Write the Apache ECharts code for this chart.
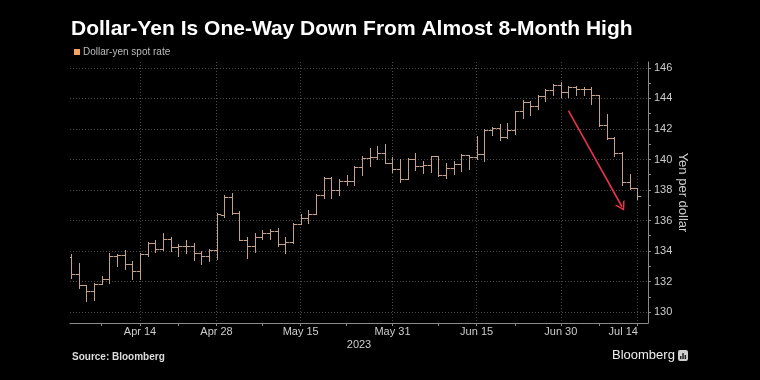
<!DOCTYPE html>
<html>
<head>
<meta charset="utf-8">
<script src="https://cdn.jsdelivr.net/npm/echarts@6/dist/echarts.min.js"></script>
<style>
html,body{margin:0;padding:0;background:#000;}
#chart{width:760px;height:380px;}
</style>
</head>
<body>
<div id="chart"></div>
<script>
var dates = ['04-03','04-04','04-05','04-06','04-07','04-10','04-11','04-12','04-13','04-14','04-17','04-18','04-19','04-20','04-21','04-24','04-25','04-26','04-27','04-28',
'05-01','05-02','05-03','05-04','05-05','05-08','05-09','05-10','05-11','05-12','05-15','05-16','05-17','05-18','05-19','05-22','05-23','05-24','05-25','05-26','05-29','05-30','05-31',
'06-01','06-02','06-05','06-06','06-07','06-08','06-09','06-12','06-13','06-14','06-15','06-16','06-19','06-20','06-21','06-22','06-23','06-26','06-27','06-28','06-29','06-30',
'07-03','07-04','07-05','07-06','07-07','07-10','07-11','07-12','07-13','07-14'];

var open = [133.6,132.5,131.75,131.4,131.85,132.15,133.65,133.72,133.15,132.7,
133.8,134.55,134.1,134.8,134.25,134.3,134.35,133.85,133.7,134.05,
136.35,137.55,136.5,134.75,134.35,134.9,135.2,135.3,134.45,134.6,
135.75,136.15,136.45,137.7,138.8,138.0,138.6,138.6,139.5,140.1,
140.15,140.45,139.8,139.35,138.7,140.0,139.6,139.65,140.2,138.95,
139.45,139.7,140.3,140.15,140.35,141.9,142.05,141.45,141.95,143.15,
143.8,143.5,144.15,144.55,144.85,144.4,144.75,144.6,144.65,144.2,
142.25,141.4,140.45,138.55,138.1];
var high = [133.8,133.2,131.8,131.9,132.35,133.85,133.8,134.05,133.35,133.9,
134.6,134.7,135.15,134.9,134.45,134.75,134.5,134.0,134.1,136.5,
137.65,137.8,136.6,134.9,135.15,135.35,135.45,135.5,134.9,135.85,
136.45,136.7,137.75,138.85,138.85,138.7,138.95,139.6,140.25,140.75,
140.9,141.0,140.15,140.05,140.1,140.45,139.9,140.25,140.2,139.8,
139.9,140.35,140.3,141.55,142.0,142.15,142.3,142.4,143.2,143.9,
143.85,144.2,144.6,144.95,145.1,144.8,144.8,144.75,144.75,144.2,
143.0,141.45,140.5,139.05,138.1];
var low = [132.2,131.55,130.7,130.8,131.85,131.9,133.0,132.8,132.15,132.15,
133.65,133.95,134.05,134.0,133.65,133.9,133.4,133.15,133.35,133.45,
136.2,136.45,134.7,133.55,133.95,134.8,134.8,134.35,133.85,134.55,
135.75,135.85,136.4,137.5,137.5,137.65,138.3,138.3,138.95,139.55,
140.0,139.75,139.2,138.5,138.7,139.3,139.1,139.15,138.9,138.8,
139.05,139.25,139.4,140.0,139.9,141.6,141.25,141.4,141.65,142.75,
142.9,143.3,143.85,144.2,144.1,144.1,144.2,144.2,143.65,142.2,
141.35,140.25,138.3,138.05,137.4];
var close = [132.5,131.75,131.4,131.85,132.15,133.65,133.72,133.15,132.7,133.8,
134.55,134.1,134.8,134.25,134.3,134.35,133.85,133.7,134.05,136.4,
137.55,136.5,134.75,134.35,134.9,135.2,135.3,134.45,134.6,135.75,
136.15,136.45,137.7,138.8,138.0,138.6,138.6,139.5,140.1,140.15,
140.45,139.8,139.35,138.7,140.0,139.6,139.65,140.2,138.95,139.45,
139.7,140.3,140.15,140.35,141.9,142.05,141.45,141.95,143.15,143.8,
143.5,144.15,144.55,144.85,144.4,144.75,144.6,144.65,144.2,142.25,
141.4,140.45,138.55,138.1,137.6];

var tickDates = ['04-14','04-28','05-15','05-31','06-15','06-30','07-14'];
var tickLabels = ['Apr 14','Apr 28','May 15','May 31','Jun 15','Jun 30','Jul 14'];
var minorTickDates = ['04-07','04-21','05-08','05-23','06-08','06-22','07-07'];
var yTicks = [130,132,134,136,138,140,142,144,146];
var yMinorTicks = [131,133,135,137,139,141,143,145];
var arrowStart = ['07-03', 143.2];
var arrowEnd = ['07-12', 136.9];

var barColor = '#c4a189';
var rows = dates.map(function(d, i){ return [i, open[i], high[i], low[i], close[i]]; });
var tickIdx = tickDates.map(function(d){ return dates.indexOf(d); });
var minorIdx = minorTickDates.map(function(d){ return dates.indexOf(d); });
var labelMap = {};
tickIdx.forEach(function(v, k){ labelMap[v] = tickLabels[k]; });

var chart = echarts.init(document.getElementById('chart'));
var FONT = '"Liberation Sans", Arial, sans-serif';
var xMin = -0.15, xMax = 75.4, yMin = 129.28, yMax = 146.39;

chart.setOption({
  backgroundColor: '#000',
  animation: false,
  textStyle: {fontFamily: FONT},
  title: {
    text: 'Dollar-Yen Is One-Way Down From Almost 8-Month High',
    left: 71, top: 19, padding: 0,
    textStyle: {color: '#fff', fontSize: 21, fontWeight: 'bold', fontFamily: FONT}
  },
  legend: {
    left: 74, top: 47, padding: 0,
    icon: 'rect', itemWidth: 6, itemHeight: 6, itemGap: 4,
    data: [{name: 'Dollar-yen spot rate', itemStyle: {color: '#f4a460'}}],
    textStyle: {color: '#bbb', fontSize: 10, padding: [0,0,0,-2]}
  },
  grid: {left: 70, right: 112, top: 62, bottom: 57, containLabel: false},
  xAxis: [{
    type: 'value', min: xMin, max: xMax, position: 'bottom',
    name: '2023', nameLocation: 'middle', nameGap: 16, nameMoveOverlap: false,
    nameTextStyle: {color: '#ccc', fontSize: 11},
    axisLine: {show: true, onZero: false, lineStyle: {color: '#8a8a8a', width: 1}},
    axisTick: {show: true, customValues: tickIdx, length: 3, lineStyle: {color: '#8a8a8a'}},
    axisLabel: {
      customValues: tickIdx, color: '#ccc', fontSize: 11, margin: 3,
      formatter: function(v){
        var idx = Math.round(v);
        var s = labelMap[idx] || '';
        if (idx === dates.length - 1) return '{r|' + s + '}';
        return s;
      },
      rich: {r: {color: '#ccc', fontSize: 11, padding: [0, 28, 0, 0]}}
    },
    splitLine: {show: true, lineStyle: {color: '#4a4a4a', type: [1, 2], width: 1}}
  }, {
    type: 'value', min: xMin, max: xMax, position: 'bottom',
    axisLine: {show: false, onZero: false},
    axisTick: {show: true, customValues: minorIdx, length: 3, lineStyle: {color: '#8a8a8a'}},
    axisLabel: {show: false},
    splitLine: {show: false}
  }],
  yAxis: [{
    type: 'value', min: yMin, max: yMax, position: 'right',
    name: 'Yen per dollar', nameLocation: 'middle', nameGap: 28, nameRotate: -90, nameMoveOverlap: false,
    nameTextStyle: {color: '#ccc', fontSize: 13},
    axisLine: {show: true, onZero: false, lineStyle: {color: '#8a8a8a', width: 1}},
    axisTick: {show: true, customValues: yTicks, length: 3, lineStyle: {color: '#8a8a8a'}},
    axisLabel: {customValues: yTicks, color: '#ccc', fontSize: 11, margin: 6},
    splitLine: {show: true, lineStyle: {color: '#4a4a4a', type: [1, 2], width: 1}}
  }, {
    type: 'value', min: yMin, max: yMax, position: 'right',
    axisLine: {show: false, onZero: false},
    axisTick: {show: true, customValues: yMinorTicks, length: 3, lineStyle: {color: '#8a8a8a'}},
    axisLabel: {show: false},
    splitLine: {show: false}
  }],
  series: [{
    name: 'Dollar-yen spot rate',
    type: 'custom',
    xAxisIndex: 0, yAxisIndex: 0,
    clip: true,
    data: rows,
    encode: {x: 0, y: [1, 2, 3, 4]},
    itemStyle: {color: barColor},
    renderItem: function(params, api){
      var i = api.value(0);
      var x = api.coord([i, api.value(1)])[0];
      var yo = Math.round(api.coord([i, api.value(1)])[1]) + 0.5;
      var yh = api.coord([i, api.value(2)])[1];
      var yl = api.coord([i, api.value(3)])[1];
      var yc = Math.round(api.coord([i, api.value(4)])[1]) + 0.5;
      var half = api.size([1, 0])[0] * 0.5;
      var xs = Math.round(x) + 0.5;
      var st = {stroke: barColor, lineWidth: 1};
      var gx = params.coordSys.x;
      return {type: 'group', children: [
        {type: 'line', shape: {x1: xs, y1: Math.round(yh), x2: xs, y2: Math.round(yl) + 1}, style: st},
        {type: 'line', shape: {x1: Math.max(gx, xs - half), y1: yo, x2: xs, y2: yo}, style: st},
        {type: 'line', shape: {x1: xs, y1: yc, x2: xs + half, y2: yc}, style: st}
      ]};
    },
    markLine: {
      silent: true,
      animation: false,
      label: {show: false},
      lineStyle: {color: '#e8334d', width: 1.6, type: 'solid'},
      data: [[
        {coord: [dates.indexOf(arrowStart[0]), arrowStart[1]], symbol: 'none'},
        {coord: [dates.indexOf(arrowEnd[0]), arrowEnd[1]], symbol: 'path://M0,10 L5,0 L10,10 L8.4,10 L5,3.2 L1.6,10 Z', symbolSize: [11, 9]}
      ]]
    }
  }],
  graphic: [
    {type: 'text', left: 72, top: 352, style: {text: 'Source: Bloomberg', fill: '#ddd', font: 'bold 10px ' + FONT}},
    {type: 'text', left: 612, top: 349, style: {text: 'Bloomberg', fill: '#eee', font: '13px ' + FONT}},
    {type: 'group', left: 678, top: 350, children: [
      {type: 'rect', shape: {x: 0, y: 0, width: 10, height: 11, r: 2}, style: {fill: '#ccc'}},
      {type: 'rect', shape: {x: 2, y: 6, width: 1.5, height: 3}, style: {fill: '#222'}},
      {type: 'rect', shape: {x: 4.3, y: 3, width: 1.5, height: 6}, style: {fill: '#222'}},
      {type: 'rect', shape: {x: 6.6, y: 5, width: 1.5, height: 4}, style: {fill: '#222'}}
    ]}
  ]
});
</script>
</body>
</html>
